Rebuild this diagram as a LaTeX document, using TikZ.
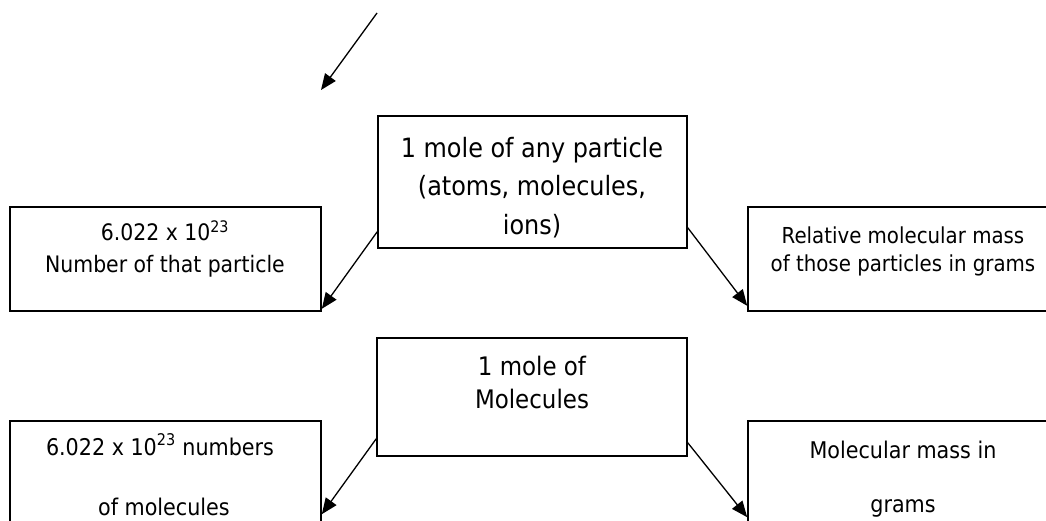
\documentclass[tikz,border=0pt]{standalone}
\usepackage{fontspec}
\setmainfont{DejaVu Sans Condensed}
\usetikzlibrary{arrows.meta}
\tikzset{
  box/.style={draw=black, line width=1.6pt, rectangle, inner sep=0pt, minimum width=310pt},
  txt/.style={anchor=base, inner sep=0pt, font=\fontsize{#1}{#1}\selectfont},
  txt/.default=22,
  arr/.style={line width=1.3pt, -{Triangle[length=16pt,width=13pt]}}
}
\begin{document}
\begin{tikzpicture}[x=1pt,y=-1pt]
\useasboundingbox (0,0) rectangle (1046,520);
\clip (0,0) rectangle (1046,520);
% boxes
\node[box, minimum width=309pt, minimum height=132pt] (c1) at (532.5,182) {};
\node[box, minimum width=311pt, minimum height=104pt] (l1) at (165.5,259) {};
\node[box, minimum width=311pt, minimum height=104pt] (r1) at (903.5,259) {};
\node[box, minimum width=310pt, minimum height=118pt] (c2) at (532,397) {};
\node[box, minimum width=311pt, minimum height=120pt] (l2) at (165.5,481) {};
\node[box, minimum width=311pt, minimum height=120pt] (r2) at (903.5,481) {};
% texts
\node[txt=26.6] (c1a) at (532,157) {1 mole of any particle};
\node[txt=26.6] (c1b) at (532,195) {(atoms, molecules,};
\node[txt=26.6] (c1c) at (532,234) {ions)};
\node[txt=22.7] (l1a) at (165,240) {6.022 x 10\textsuperscript{23}};
\node[txt=22.7] (l1b) at (165,272) {Number of that particle};
\node[txt=22] (r1a) at (903,243) {Relative molecular mass};
\node[txt=22] (r1b) at (903,271) {of those particles in grams};
\node[txt=25.5] (c2a) at (532,375) {1 mole of};
\node[txt=25.5] (c2b) at (532,408) {Molecules};
\node[txt=23] (l2a) at (160,455) {6.022 x 10\textsuperscript{23} numbers};
\node[txt=23] (l2b) at (164,515) {of molecules};
\node[txt=23] (r2a) at (903,458) {Molecular mass in};
\node[txt=23] (r2b) at (903,512) {grams};
% free arrow
\coordinate (fs) at (377,13);
\coordinate (fe) at (321,90);
\draw[arr] (fs) -- (fe);
% connectors
\draw[arr] ([yshift=17pt]c1.south west) -- ([yshift=3pt]l1.south east);
\draw[arr] ([yshift=21pt]c1.south east) -- ([yshift=6pt]r1.south west);
\draw[arr] ([yshift=18pt]c2.south west) -- ([yshift=-94pt]l2.north east);
\draw[arr] ([yshift=14pt]c2.south east) -- ([yshift=-97pt]r2.north west);
\end{tikzpicture}
\end{document}
